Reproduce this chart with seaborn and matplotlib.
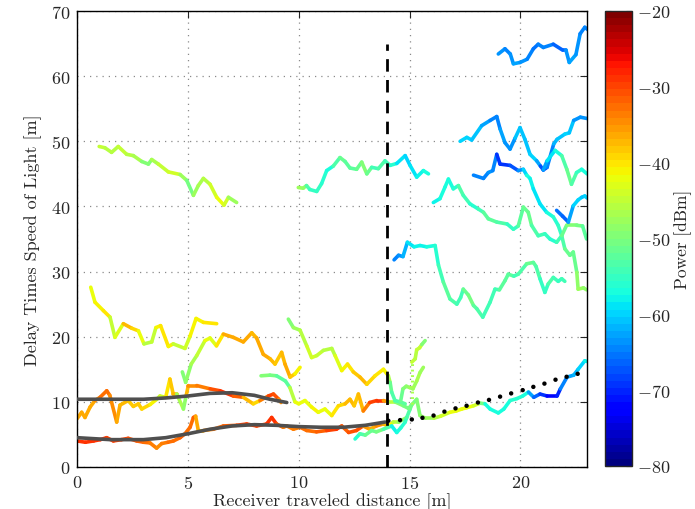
import numpy as np
import matplotlib
matplotlib.use("Agg")
import matplotlib.pyplot as plt
import seaborn as sns
from matplotlib.collections import LineCollection
from matplotlib.colors import Normalize
import matplotlib.cm as cm

# ---------------- data ----------------
X_TICKS = [0, 5, 10, 15, 20]
Y_TICKS = [0, 10, 20, 30, 40, 50, 60, 70]
CBAR_TICKS = [-80, -70, -60, -50, -40, -30, -20]
DIVIDER_X = 14.0
DIVIDER_TOP = 65.0

T1_X = [1.0, 1.26, 1.56, 1.86, 2.24, 2.54, 2.92, 3.22, 3.37, 3.67, 4.12, 4.65, 4.95, 5.25, 5.47, 5.70, 6.0, 6.30, 6.63, 6.83, 7.2]
T1_Y = [49.2, 49.0, 48.3, 49.2, 48.0, 47.8, 46.9, 46.5, 47.2, 46.5, 45.3, 44.9, 44.0, 41.7, 43.2, 44.3, 43.4, 41.4, 40.2, 41.4, 40.6]
T1_P = [-44, -45, -46, -45, -45, -46, -47, -53, -47, -46, -43, -44, -52, -49, -47, -46, -45, -43, -42, -46, -50]

T2_X = [0.62, 0.81, 1.19, 1.49, 1.71, 2.09, 2.47, 2.77, 3.02, 3.37, 3.56, 3.77, 4.12, 4.34, 4.87, 5.10, 5.37, 5.70, 6.30]
T2_Y = [27.6, 25.3, 24.0, 23.0, 19.9, 22.0, 21.3, 20.9, 18.9, 19.2, 21.4, 21.7, 18.5, 18.9, 18.2, 20.1, 22.8, 22.2, 22.0]
T2_P = [-42, -42, -40, -41, -49, -37, -38, -41, -44, -47, -42, -41, -40, -43, -46, -42, -41, -41, -40]

T3_X = [4.75, 4.9, 5.15, 5.40, 5.77, 6.0, 6.29, 6.60, 7.05, 7.50, 7.88, 8.1, 8.40, 8.71, 8.93, 9.23, 9.38, 9.61, 9.83, 10.06]
T3_Y = [14.6, 13.0, 15.8, 17.1, 19.4, 19.8, 18.6, 20.4, 19.9, 19.2, 20.6, 19.8, 17.3, 16.6, 15.8, 17.6, 15.8, 13.8, 14.3, 15.3]
T3_P = [-50, -50, -48, -46, -43, -42, -44, -36, -37, -36, -37, -37, -36, -36, -39, -38, -37, -36, -40, -42]

T4_X = [0.0, 0.21, 0.36, 0.59, 0.81, 1.04, 1.34, 1.48, 1.79, 1.94, 2.31, 2.54, 2.77, 2.92, 3.3, 3.6, 3.74, 4.0, 4.19, 4.34, 4.5, 4.8, 4.92, 5.02, 5.4, 6.0, 6.45, 7.05, 7.5, 7.95, 8.25, 8.63, 8.86, 9.1, 9.2]
T4_Y = [7.4, 8.4, 7.6, 9.2, 10.2, 10.7, 11.7, 11.0, 6.9, 9.5, 10.2, 9.3, 9.7, 8.9, 9.6, 10.4, 10.9, 10.7, 13.5, 11.2, 11.2, 8.9, 10.9, 12.5, 12.5, 12.0, 11.7, 10.9, 10.7, 9.7, 10.2, 10.9, 11.2, 10.4, 9.9]
T4_P = [-36, -36, -37, -36, -36, -34, -32, -34, -36, -36, -38, -38, -39, -38, -40, -43, -46, -42, -39, -37, -37, -57, -40, -35, -34, -33, -29, -29, -34, -41, -37, -30, -29, -33, -36]

T5_X = [0.0, 0.38, 0.75, 1.05, 1.34, 1.64, 2.0, 2.31, 2.69, 3.0, 3.29, 3.59, 3.82, 4.1, 4.35, 4.65, 4.87, 5.1, 5.25, 5.35, 5.47, 5.7, 6.15, 6.6, 7.2, 7.65, 8.1, 8.55, 8.78, 9.0, 9.3, 9.46, 9.76, 10.06, 10.36, 10.8, 11.26, 11.7, 11.94, 12.25, 12.6, 12.9, 13.2, 13.5, 13.8, 14.04, 14.27, 14.5, 14.87]
T5_Y = [4.0, 3.8, 4.0, 4.2, 4.5, 4.0, 4.2, 4.4, 4.0, 3.8, 3.7, 2.9, 3.6, 3.8, 4.0, 4.5, 5.1, 6.1, 7.6, 7.8, 5.6, 5.6, 5.8, 6.3, 6.4, 6.6, 6.3, 6.6, 7.6, 6.6, 6.1, 6.3, 5.8, 6.1, 5.6, 5.4, 5.6, 5.8, 6.3, 5.3, 5.6, 6.3, 5.8, 6.3, 6.6, 6.3, 6.9, 6.9, 7.6]
T5_P = [-29, -28, -29, -28, -29, -30, -29, -30, -31, -32, -33, -35, -34, -33, -33, -32, -31, -34, -31, -33, -40, -35, -34, -32, -31, -29, -30, -29, -28, -30, -34, -33, -34, -33, -33, -32, -31, -28, -30, -33, -29, -33, -38, -35, -35, -40, -43, -48, -50]

T6_X = [8.3, 8.7, 9.0, 9.4, 9.6, 9.83, 10.0, 10.28, 10.58, 10.88, 11.18, 11.49, 11.79, 12.09, 12.31, 12.5, 12.69, 12.91, 13.2, 13.52, 13.82, 14.04, 14.34, 14.72, 14.95, 15.32, 15.47, 15.7, 16.1, 16.4, 16.82, 17.1, 17.35, 17.57, 17.88, 18.18, 18.4, 18.63, 19.0, 19.25, 19.53, 19.84, 20.1, 20.36, 20.6, 20.88, 21.2, 21.65, 21.8, 22.1, 22.4, 22.6, 22.9, 23.0]
T6_Y = [14.0, 14.1, 14.0, 13.2, 12.2, 10.0, 9.7, 10.2, 9.2, 8.4, 8.9, 7.9, 9.4, 9.7, 10.4, 9.4, 11.2, 8.6, 9.9, 10.2, 10.2, 10.0, 10.0, 9.4, 9.0, 10.4, 7.9, 7.5, 7.5, 7.8, 8.4, 8.6, 8.9, 9.1, 9.4, 9.8, 9.7, 8.9, 8.3, 8.9, 10.2, 10.5, 10.9, 11.5, 10.7, 11.2, 10.9, 10.9, 12.0, 13.8, 14.1, 15.0, 16.3, 16.2]
T6_P = [-50, -50, -51, -54, -50, -42, -42, -43, -41, -42, -43, -41, -40, -38, -37, -37, -39, -36, -31, -29, -29, -42, -50, -50, -51, -50, -49, -49, -47, -45, -43, -42, -43, -42, -43, -44, -57, -58, -57, -57, -57, -56, -57, -58, -67, -66, -72, -73, -67, -63, -62, -61, -58, -58]

T8_X = [9.53, 9.76, 10.06, 10.36, 10.58, 10.81, 11.11, 11.49, 11.64, 11.94, 12.2, 12.46, 12.76, 13.07, 13.44, 13.82, 14.04, 14.12, 14.19, 14.34, 14.57, 14.8]
T8_Y = [22.7, 21.4, 21.0, 18.6, 16.8, 17.1, 17.9, 18.2, 17.1, 14.8, 15.8, 14.6, 13.8, 12.7, 14.0, 15.0, 14.0, 13.0, 11.5, 10.2, 10.0, 9.7]
T8_P = [-50, -49, -47, -45, -43, -44, -45, -47, -44, -42, -41, -39, -37, -38, -41, -39, -44, -50, -52, -54, -53, -52]

T9_X = [12.54, 12.76, 13.0, 13.29, 13.5, 13.82, 14.19, 14.42, 14.6, 14.8, 14.87, 15.02, 15.1]
T9_Y = [4.3, 5.1, 4.9, 5.6, 5.4, 5.8, 6.3, 5.3, 6.0, 6.9, 7.6, 8.9, 9.6]
T9_P = [-57, -55, -52, -50, -52, -49, -58, -58, -57, -55, -55, -52, -50]

TE_X = [14.6, 14.7, 14.85, 15.0, 15.15, 15.32, 15.47, 15.62]
TE_Y = [10.2, 12.0, 12.4, 12.2, 12.0, 13.2, 14.5, 15.3]
TE_P = [-52, -50, -49, -48, -48, -47, -47, -49]

TF_X = [15.1, 15.25, 15.32, 15.45, 15.55, 15.7]
TF_Y = [16.1, 16.6, 18.0, 18.3, 18.8, 19.4]
TF_P = [-45, -45, -46, -44, -45, -55]
TF_GAP_X = [15.1, 15.1]
TF_GAP_Y = [9.6, 16.1]
TF_GAP_P = -47

TOP_X = [19.0, 19.3, 19.54, 19.68, 19.98, 20.3, 20.58, 20.8, 21.03, 21.48, 21.9, 22.05, 22.2, 22.5, 22.69, 22.9, 23.05]
TOP_Y = [63.4, 64.2, 63.4, 61.9, 62.1, 62.6, 64.2, 64.9, 64.4, 64.9, 64.0, 64.0, 62.1, 63.3, 66.5, 67.5, 67.1]
TOP_P = [-62, -66, -64, -63, -63, -64, -65, -66, -64, -65, -67, -65, -62, -63, -64, -66, -63]

G_X = [17.28, 17.58, 17.8, 18.25, 18.63, 18.93, 19.08, 19.3, 19.53, 19.76, 19.98, 20.2, 20.43, 20.73, 20.9, 21.03, 21.2, 21.5, 21.65, 22.0, 22.2, 22.4, 22.7, 23.0]
G_Y = [50.0, 50.6, 50.2, 52.4, 53.2, 53.8, 51.9, 49.8, 48.8, 50.5, 52.1, 50.3, 48.0, 47.0, 46.2, 45.6, 46.0, 49.6, 50.3, 51.1, 51.3, 53.2, 53.7, 53.5]
G_P = [-59, -60, -60, -62, -63, -67, -63, -62, -66, -62, -60, -61, -60, -60, -66, -69, -68, -62, -61, -60, -60, -62, -66, -62]

H_X = [17.88, 18.33, 18.55, 18.75, 18.93, 19.08, 19.53, 19.9, 20.13, 20.28, 20.43, 20.58, 20.88, 21.18, 21.48, 21.7, 21.86, 22.0, 22.23, 22.38, 22.54, 22.6, 22.84, 22.98]
H_Y = [44.8, 44.3, 45.2, 45.5, 48.0, 46.5, 46.3, 45.5, 45.7, 44.8, 44.3, 42.7, 40.4, 39.1, 38.4, 37.1, 35.5, 33.5, 32.5, 33.0, 29.9, 27.3, 27.5, 27.2]
H_P = [-63, -66, -64, -63, -67, -71, -68, -66, -62, -57, -58, -58, -59, -58, -57, -56, -55, -51, -51, -52, -50, -47, -48, -49]

K_X = [21.03, 21.2, 21.56, 21.86, 22.09, 22.3, 22.53, 22.76, 23.0]
K_Y = [45.6, 47.0, 48.6, 47.8, 45.7, 43.4, 45.2, 45.7, 45.0]
K_P = [-66, -60, -58, -56, -51, -52, -55, -56, -58]

I_X = [16.07, 16.37, 16.6, 16.75, 16.97, 17.2, 17.42, 17.72, 18.1, 18.33, 18.55, 18.93, 19.4, 19.68, 19.9, 20.13, 20.35, 20.5, 20.8, 21.1, 21.33, 21.63, 21.86, 22.08, 22.53, 22.8, 22.98]
I_Y = [40.6, 41.2, 43.0, 44.2, 42.7, 43.2, 41.7, 40.4, 39.6, 39.1, 38.1, 37.6, 37.3, 36.5, 37.0, 39.9, 39.1, 37.1, 35.5, 35.8, 35.0, 34.5, 35.5, 37.1, 37.1, 37.0, 35.0]
I_P = [-58, -58, -57, -58, -57, -55, -52, -57, -56, -53, -52, -53, -53, -57, -54, -51, -51, -52, -54, -55, -56, -57, -52, -50, -50, -51, -53]

J_X = [21.63, 21.9, 22.16, 22.38, 22.6, 22.76, 22.9, 23.0]
J_Y = [39.4, 38.5, 37.6, 40.1, 41.0, 41.4, 41.6, 41.3]
J_P = [-64, -67, -66, -60, -59, -60, -61, -59]

K2_X = [9.98, 10.2, 10.35, 10.5, 10.81, 11.03, 11.26, 11.56, 11.86, 12.09, 12.31, 12.61, 12.84, 13.07, 13.29, 13.59, 13.89, 14.12, 14.42, 14.8, 15.02, 15.32, 15.62, 15.85]
K2_Y = [42.9, 42.8, 43.2, 42.6, 42.3, 43.5, 45.5, 46.2, 47.5, 46.9, 45.9, 45.7, 46.8, 45.0, 46.0, 45.8, 47.0, 46.3, 46.6, 47.8, 46.3, 44.5, 45.5, 45.0]
K2_P = [-47, -48, -50, -56, -55, -55, -58, -56, -50, -52, -53, -52, -51, -48, -54, -54, -53, -56, -57, -61, -59, -58, -58, -57]

L_X = [14.3, 14.5, 14.7, 14.9, 15.2, 15.47, 15.77, 16.15, 16.3, 16.52, 16.82, 17.13, 17.3, 17.42, 17.65, 17.88, 18.03, 18.3, 18.63, 18.85, 19.05, 19.3, 19.45, 19.7, 19.9, 20.28, 20.58, 20.7, 20.88, 21.1, 21.25, 21.48, 21.7, 21.86, 22.0]
L_Y = [31.8, 32.5, 32.3, 34.5, 33.8, 34.0, 33.8, 34.0, 31.0, 28.4, 25.8, 25.0, 26.0, 27.3, 26.4, 24.8, 24.3, 23.0, 25.3, 27.3, 27.2, 28.6, 29.6, 29.3, 29.6, 31.2, 31.4, 30.8, 28.9, 26.8, 28.1, 29.1, 28.5, 28.9, 28.5]
L_P = [-66, -64, -63, -60, -58, -58, -58, -57, -55, -53, -52, -54, -55, -53, -50, -51, -53, -54, -54, -55, -53, -52, -52, -53, -55, -52, -51, -53, -54, -56, -54, -53, -55, -55, -54]

GRAY_LOW_X = [0, 1.5, 3.0, 4.0, 5.0, 6.0, 7.0, 8.0, 9.0, 10.0, 11.0, 12.0, 13.0, 13.9]
GRAY_LOW_Y = [4.5, 4.2, 4.2, 4.5, 5.1, 5.8, 6.3, 6.5, 6.4, 6.2, 6.1, 6.1, 6.4, 6.9]
GRAY_UP_X = [0, 1.5, 3.0, 4.0, 5.0, 6.0, 7.0, 7.5, 8.0, 8.7, 9.46]
GRAY_UP_Y = [10.4, 10.4, 10.4, 10.6, 10.9, 11.3, 11.4, 11.2, 11.0, 10.4, 9.9]

TREND_X = [14.04, 14.57, 15.1, 15.58, 16.08, 16.57, 17.07, 17.57, 18.08, 18.58, 19.08, 19.58, 20.1, 20.58, 21.08, 21.58, 22.08, 22.58]
TREND_Y = [7.1, 7.2, 7.3, 7.55, 7.9, 8.5, 9.0, 9.4, 9.9, 10.3, 10.8, 11.3, 11.8, 12.3, 12.8, 13.4, 13.85, 14.3]

TRACKS = [
    (T1_X, T1_Y, T1_P), (T2_X, T2_Y, T2_P), (T3_X, T3_Y, T3_P),
    (T4_X, T4_Y, T4_P), (T5_X, T5_Y, T5_P), (T9_X, T9_Y, T9_P),
    (T6_X, T6_Y, T6_P), (T8_X, T8_Y, T8_P), (TE_X, TE_Y, TE_P),
    (TF_X, TF_Y, TF_P), (TOP_X, TOP_Y, TOP_P), (G_X, G_Y, G_P),
    (H_X, H_Y, H_P), (K_X, K_Y, K_P), (I_X, I_Y, I_P), (J_X, J_Y, J_P),
    (K2_X, K2_Y, K2_P), (L_X, L_Y, L_P),
]

# ---------------- style ----------------
sns.set_style("white")
plt.rcParams.update({
    "font.family": ["cmr10"],
    "mathtext.fontset": "cm",
    "axes.formatter.use_mathtext": True,
    "axes.unicode_minus": True,
    "font.size": 13,
})

fig = plt.figure(figsize=(6.95, 5.10), dpi=100)
ax = fig.add_axes([77 / 695, 42 / 510, 510 / 695, 456 / 510])
cax = fig.add_axes([605 / 695, 43 / 510, 27 / 695, 455 / 510])

cmap = plt.get_cmap("jet", 64)
norm = Normalize(vmin=-80, vmax=-20)

# grid
ax.set_xlim(0, 23)
ax.set_ylim(0, 70)
ax.set_xticks(X_TICKS)
ax.set_yticks(Y_TICKS)
ax.grid(True, color="#8a8a8a", linestyle=(0, (1, 4)), linewidth=0.9)
ax.set_axisbelow(True)

# tracks
for xs, ys, ps in TRACKS:
    pts = np.column_stack([xs, ys])
    segs = np.stack([pts[:-1], pts[1:]], axis=1)
    vals = (np.asarray(ps[:-1], float) + np.asarray(ps[1:], float)) / 2
    lc = LineCollection(segs, cmap=cmap, norm=norm, linewidths=2.6,
                        capstyle="round", joinstyle="round", zorder=2)
    lc.set_array(vals)
    ax.add_collection(lc)

ax.plot(TF_GAP_X, TF_GAP_Y, color=cmap(norm(TF_GAP_P)), lw=2.2,
        linestyle=(0, (0.6, 1.2)), zorder=2)

# smooth gray fits
sns.lineplot(x=GRAY_LOW_X, y=GRAY_LOW_Y, sort=False, color="#4f4f4f", lw=2.6, ax=ax, zorder=3)
sns.lineplot(x=GRAY_UP_X, y=GRAY_UP_Y, sort=False, color="#4f4f4f", lw=2.6, ax=ax, zorder=3)
sns.scatterplot(x=TREND_X, y=TREND_Y, color="black", s=10, edgecolor="none", ax=ax, zorder=4)

# divider
ax.axvline(DIVIDER_X, ymin=0, ymax=DIVIDER_TOP / 70, color="black", lw=2.0,
           linestyle=(0, (4.5, 3.0)), zorder=5)

ax.set_xlabel("Receiver traveled distance [m]", fontsize=13, labelpad=1)
ax.set_ylabel("Delay Times Speed of Light [m]", fontsize=13, labelpad=6)
ax.tick_params(direction="in", top=True, right=True, length=5, width=0.8,
               labelsize=13, pad=5)
for s in ax.spines.values():
    s.set_linewidth(1.0)
    s.set_color("black")

# colorbar
sm = cm.ScalarMappable(norm=norm, cmap=cmap)
cb = fig.colorbar(sm, cax=cax, ticks=CBAR_TICKS)
cb.outline.set_linewidth(1.0)
cax.yaxis.set_ticks_position("both")
cax.tick_params(direction="in", length=4, width=0.8, labelsize=13, labelright=True, labelleft=False)
cb.set_label("Power [dBm]", fontsize=12.5, labelpad=3)

fig.savefig("out.png", dpi=100)
